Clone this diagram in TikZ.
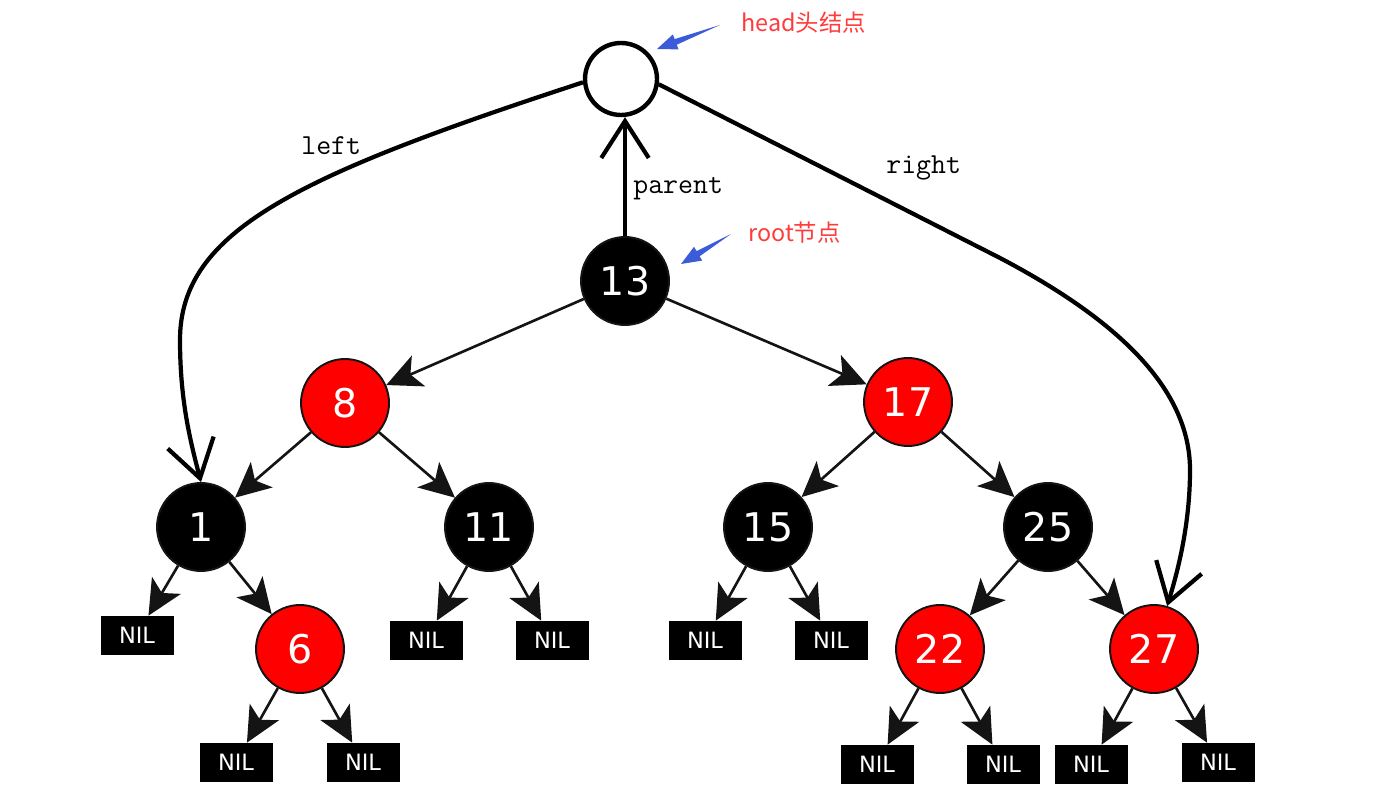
\documentclass[tikz,border=0pt]{standalone}
\usepackage{fontspec}
\setmainfont{DejaVu Sans}
\newfontfamily\cjkfont{Noto Sans CJK SC}
\usetikzlibrary{arrows.meta}
\definecolor{rbred}{HTML}{FF0000}
\definecolor{lblred}{HTML}{FF3B3B}
\definecolor{ptrblue}{HTML}{3C5BD8}
\definecolor{edgegray}{HTML}{141414}
\begin{document}
\begin{tikzpicture}[x=0.02cm,y=-0.02cm,
  rbnode/.style={circle, draw=edgegray, line width=1.1pt, minimum size=1.76cm, inner sep=0pt, text=white, font=\fontsize{22.5}{24}\selectfont},
  blacknode/.style={rbnode, fill=black},
  rednode/.style={rbnode, fill=rbred},
  nilbox/.style={rectangle, fill=black, draw=black, minimum width=1.44cm, minimum height=0.76cm, inner sep=0pt, text=white, font=\fontsize{12.8}{14}\selectfont},
  headnode/.style={circle, draw=black, fill=white, line width=2.5pt, minimum size=1.44cm, inner sep=0pt},
  edge/.style={draw=edgegray, line width=1.5pt, -{Stealth[length=20pt,width=19pt,inset=5pt]}},
  bigptr/.style={draw=black, line width=2.4pt, -{Straight Barb[length=21pt,width=27pt]}},
  monolabel/.style={inner sep=0pt, font=\ttfamily\fontsize{16.5}{18}\selectfont},
  redlabel/.style={inner sep=0pt, text=lblred, font=\cjkfont\fontsize{13.3}{15}\selectfont},
  bluearrow/.style={fill=ptrblue, draw=none}
]
\useasboundingbox (0,0) rectangle (1398,803);

% head
\node[headnode] (head) at (621,79) {};

% tree nodes
\node[blacknode] (n13) at (625,281) {13};
\node[rednode] (n8) at (345,403) {8};
\node[rednode] (n17) at (908,402) {17};
\node[blacknode] (n1) at (201,527) {1};
\node[blacknode] (n11) at (489,527) {11};
\node[blacknode] (n15) at (768,527) {15};
\node[blacknode] (n25) at (1048,527) {25};
\node[rednode] (n6) at (300,649) {6};
\node[rednode] (n22) at (940,649) {22};
\node[rednode] (n27) at (1154,649) {27};

% NIL leaves
\node[nilbox] (nilA) at (137,635) {NIL};
\node[nilbox] (nilB) at (426,640) {NIL};
\node[nilbox] (nilC) at (552,640) {NIL};
\node[nilbox] (nilD) at (705,640) {NIL};
\node[nilbox] (nilE) at (831,640) {NIL};
\node[nilbox] (nilF) at (236,762) {NIL};
\node[nilbox] (nilG) at (363,762) {NIL};
\node[nilbox] (nilH) at (877,764) {NIL};
\node[nilbox] (nilI) at (1003,764) {NIL};
\node[nilbox] (nilJ) at (1091,764) {NIL};
\node[nilbox] (nilK) at (1218,762) {NIL};

% tree edges
\draw[edge] (n13) -- (n8);
\draw[edge] (n13) -- (n17);
\draw[edge] (n8) -- (n1);
\draw[edge] (n8) -- (n11);
\draw[edge] (n17) -- (n15);
\draw[edge] (n17) -- (n25);
\draw[edge] (n1) -- (nilA);
\draw[edge] (n1) -- (n6);
\draw[edge] (n11) -- (nilB);
\draw[edge] (n11) -- (nilC);
\draw[edge] (n15) -- (nilD);
\draw[edge] (n15) -- (nilE);
\draw[edge] (n25) -- (n22);
\draw[edge] (n25) -- (n27);
\draw[edge] (n6) -- (nilF);
\draw[edge] (n6) -- (nilG);
\draw[edge] (n22) -- (nilH);
\draw[edge] (n22) -- (nilI);
\draw[edge] (n27) -- (nilJ);
\draw[edge] (n27) -- (nilK);

% head pointers
\draw[bigptr] (head.185) .. controls (300,175) and (180,230) .. (180,340)
   .. controls (180,400) and (190,440) .. (n1.north);
\draw[bigptr] (head.-8) -- (1000,258) .. controls (1120,321) and (1190,390) .. (1190,470)
   .. controls (1190,530) and (1175,580) .. (n27.73);
\draw[bigptr] (n13.north) -- (n13.north |- head.south);

% labels
\node[monolabel, anchor=base west] (lblleft) at (301,155) {left};
\node[monolabel, anchor=base west] (lblparent) at (633,194) {parent};
\node[monolabel, anchor=base west] (lblright) at (886,174) {right};

\node[redlabel, anchor=west] (lblhead) at (741,23) {head头结点};
\node[redlabel, anchor=west] (lblroot) at (748,233) {root节点};

% blue pointer arrows
\fill[bluearrow] (657,49) -- (678.5,49.4) -- (676.8,44.7) -- (720,25) -- (674.6,39.1) -- (672.9,34.4) -- cycle;
\fill[bluearrow] (681,264) -- (702.2,260.6) -- (699.6,256.3) -- (731,234) -- (696.6,251.1) -- (694,246.8) -- cycle;
\end{tikzpicture}
\end{document}
